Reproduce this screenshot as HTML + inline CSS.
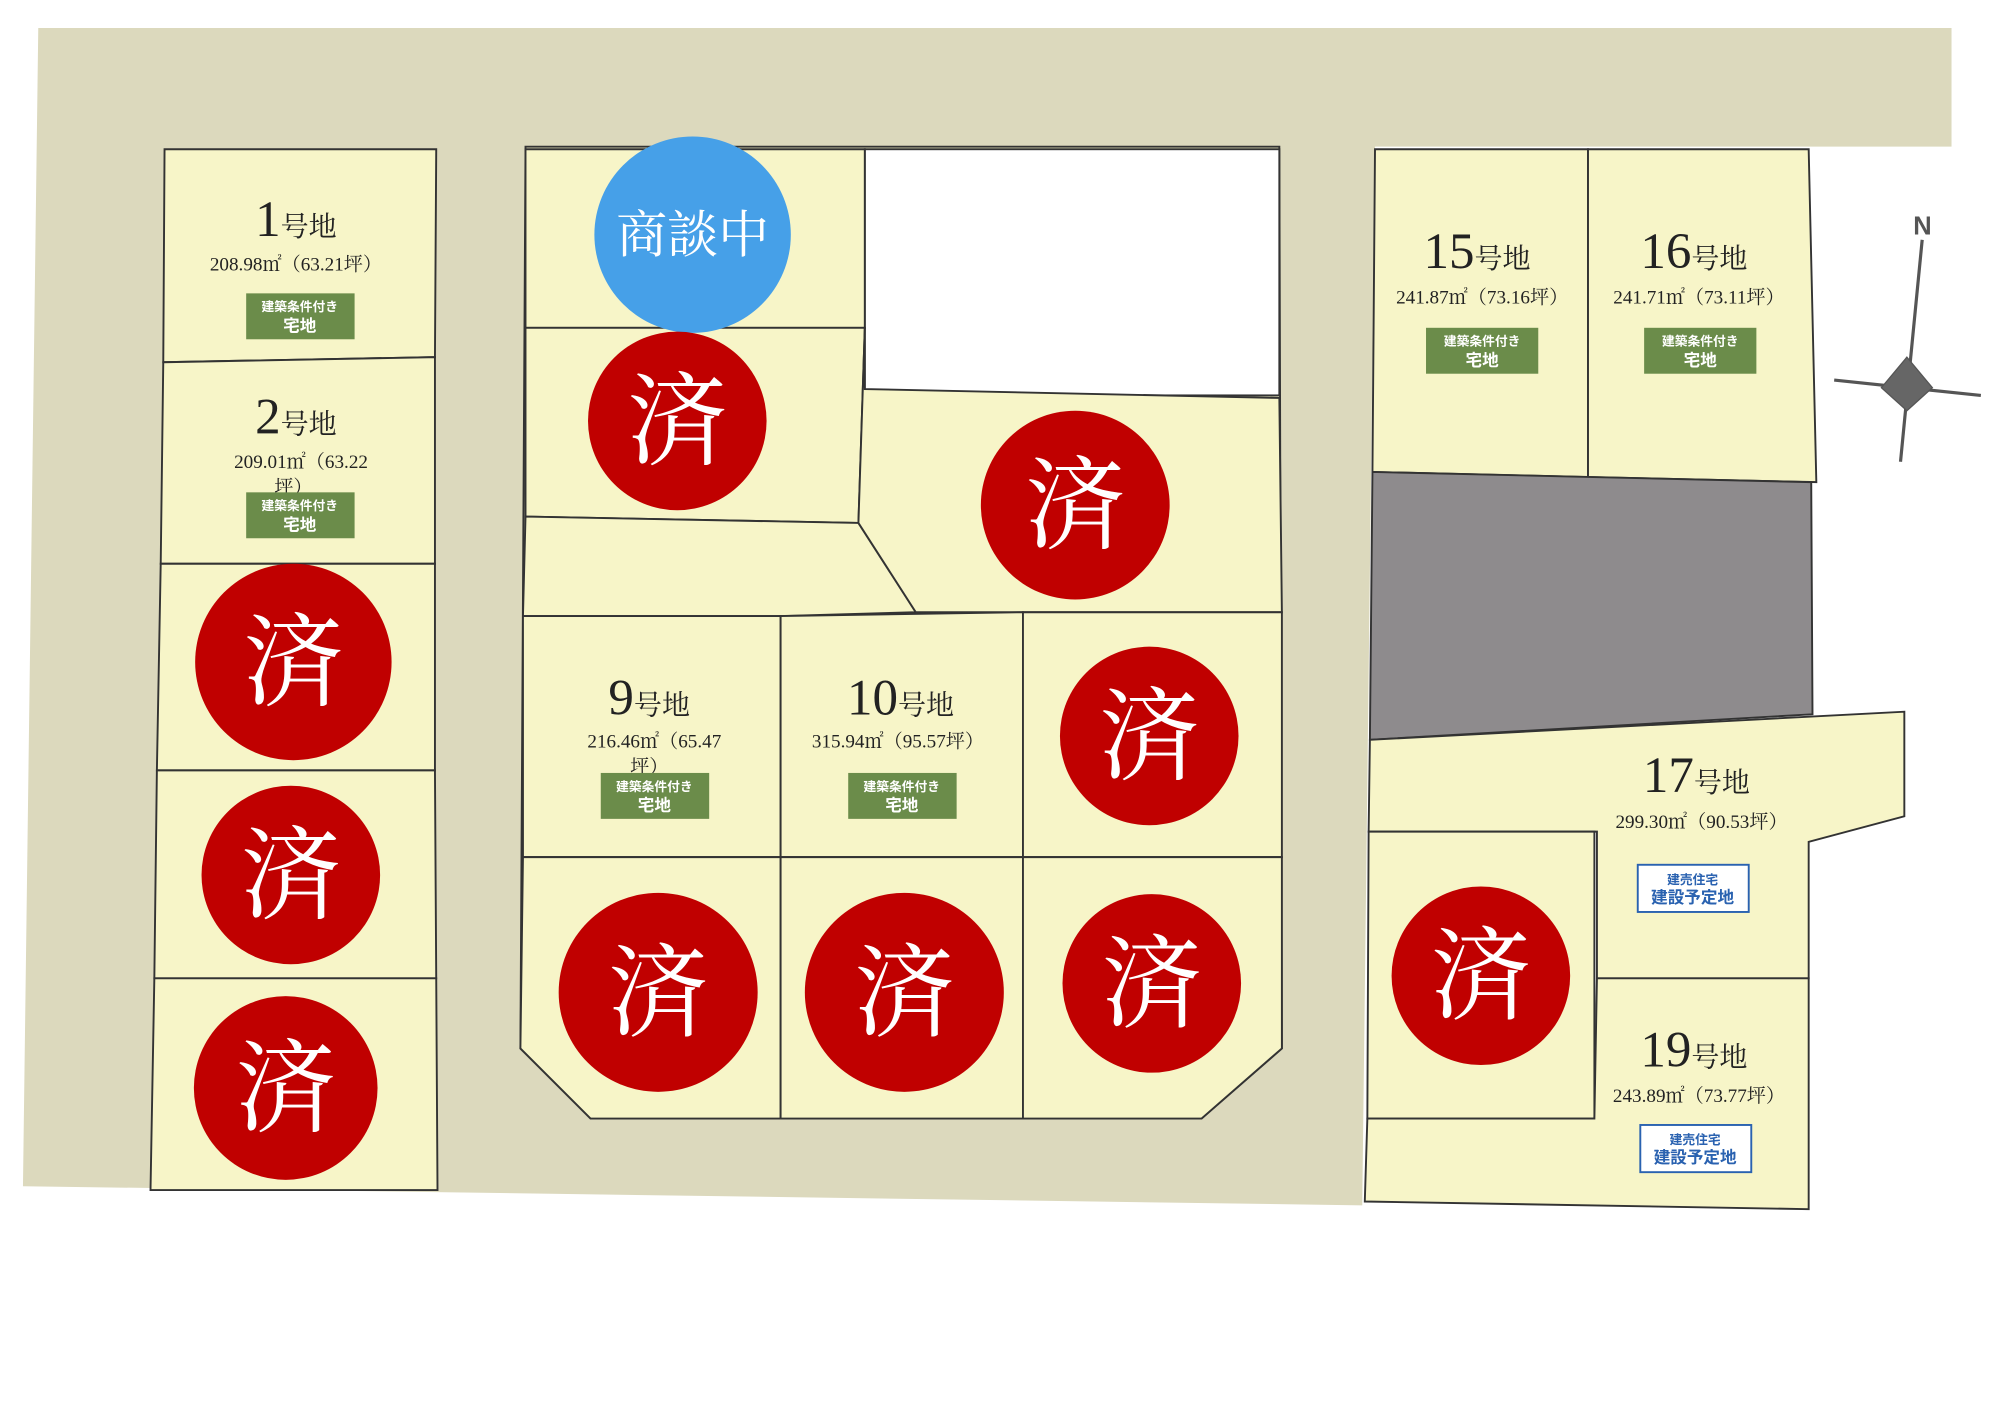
<!DOCTYPE html>
<html><head><meta charset="utf-8"><style>
html,body{margin:0;padding:0;background:#fff;}
svg{display:block;}
text{font-family:"Liberation Serif","Noto Serif CJK SC","Noto Sans CJK JP",serif;}
.s{font-family:"Liberation Sans","Noto Sans CJK JP",sans-serif;font-weight:bold;}
</style></head><body>
<svg width="2000" height="1414" viewBox="0 0 1568 1108.6" preserveAspectRatio="none" xmlns="http://www.w3.org/2000/svg">
<rect width="1568" height="1109" fill="#fff"/>
<polygon points="30,22 1530,22 1530,115 1078,115 1068,945 18,930" fill="#dcd9bd"/>
<g fill="#f7f5c8" stroke="#333" stroke-width="1.5">
<!-- left column -->
<polygon points="129,117 342,117 341,280 128,284"/>
<polygon points="128,284 341,280 341,442 126,442"/>
<polygon points="126,442 341,442 341,604 123,604"/>
<polygon points="123,604 341,604 342,767 121,767"/>
<polygon points="121,767 342,767 343,933 118,933"/>
<!-- middle block -->
<polygon points="412,115 1003,115 1005,822 942,877 463,877 408,822" />
<rect x="678" y="117" width="325" height="193" fill="#fff"/>
<polygon points="412,117 678,117 678,257 412,257"/>
<polygon points="412,257 678,257 673,410 412,405"/>
<polygon points="412,405 673,410 718,480 612,483 410,483"/>
<polygon points="678,257 678,305 1003,312 1005,480 718,480 673,410"/>
<polygon points="410,483 612,483 612,672 410,672"/>
<polygon points="612,483 802,480 802,672 612,672"/>
<polygon points="802,480 1005,480 1005,672 802,672"/>
<polygon points="410,672 612,672 612,877 463,877 408,822"/>
<polygon points="612,672 802,672 802,877 612,877"/>
<polygon points="802,672 1005,672 1005,822 942,877 802,877"/>
<!-- right block -->
<polygon points="1078,117 1245,117 1245,374 1076,370"/>
<polygon points="1245,117 1418,117 1424,378 1245,374"/>
<polygon points="1076,370 1420,378 1421,560 1074,580" fill="#8e8b8d"/>
<polygon points="1074,580 1493,558 1493,640 1418,660 1418,767 1252,767 1252,652 1073,652"/>
<polygon points="1073,652 1250,652 1250,877 1072,877"/>
<polygon points="1252,767 1418,767 1418,948 1070,942 1072,877 1250,877"/>
</g>
<!-- compass -->
<g stroke="#555" fill="#555">
<line x1="1507" y1="188" x2="1490" y2="362" stroke-width="2.5"/>
<line x1="1438" y1="298" x2="1553" y2="310" stroke-width="2.5"/>
<polygon points="1495,280 1515,304 1495,322 1475,304" fill="#666"/>
</g>
<text x="1500" y="184" font-size="20" fill="#555" class="s">N</text>
<!-- labels -->
<g fill="#222" text-anchor="middle">
<text x="232" y="185"><tspan font-size="40">1</tspan><tspan font-size="22">号地</tspan></text>
<text x="232" y="212" font-size="15">208.98㎡（63.21坪）</text>
<text x="232" y="340"><tspan font-size="40">2</tspan><tspan font-size="22">号地</tspan></text>
<text x="236" y="367" font-size="15">209.01㎡（63.22</text>
<text x="230" y="387" font-size="15">坪）</text>
<text x="509" y="560"><tspan font-size="40">9</tspan><tspan font-size="22">号地</tspan></text>
<text x="513" y="586" font-size="15">216.46㎡（65.47</text>
<text x="509" y="606" font-size="15">坪）</text>
<text x="706" y="560"><tspan font-size="40">10</tspan><tspan font-size="22">号地</tspan></text>
<text x="704" y="586" font-size="15">315.94㎡（95.57坪）</text>
<text x="1158" y="210"><tspan font-size="40">15</tspan><tspan font-size="22">号地</tspan></text>
<text x="1162" y="238" font-size="15">241.87㎡（73.16坪）</text>
<text x="1328" y="210"><tspan font-size="40">16</tspan><tspan font-size="22">号地</tspan></text>
<text x="1332" y="238" font-size="15">241.71㎡（73.11坪）</text>
<text x="1330" y="621"><tspan font-size="40">17</tspan><tspan font-size="22">号地</tspan></text>
<text x="1334" y="649" font-size="15">299.30㎡（90.53坪）</text>
<text x="1328" y="836"><tspan font-size="40">19</tspan><tspan font-size="22">号地</tspan></text>
<text x="1332" y="864" font-size="15">243.89㎡（73.77坪）</text>
</g>
<!-- green badges -->
<g text-anchor="middle">
<g transform="translate(193,230)"><rect width="85" height="36" fill="#6b8c4a"/><text x="42" y="14" font-size="10" fill="#fff" class="s">建築条件付き</text><text x="42" y="30" font-size="13" fill="#fff" class="s">宅地</text></g>
<g transform="translate(193,386)"><rect width="85" height="36" fill="#6b8c4a"/><text x="42" y="14" font-size="10" fill="#fff" class="s">建築条件付き</text><text x="42" y="30" font-size="13" fill="#fff" class="s">宅地</text></g>
<g transform="translate(471,606)"><rect width="85" height="36" fill="#6b8c4a"/><text x="42" y="14" font-size="10" fill="#fff" class="s">建築条件付き</text><text x="42" y="30" font-size="13" fill="#fff" class="s">宅地</text></g>
<g transform="translate(665,606)"><rect width="85" height="36" fill="#6b8c4a"/><text x="42" y="14" font-size="10" fill="#fff" class="s">建築条件付き</text><text x="42" y="30" font-size="13" fill="#fff" class="s">宅地</text></g>
<g transform="translate(1118,257)"><rect width="88" height="36" fill="#6b8c4a"/><text x="44" y="14" font-size="10" fill="#fff" class="s">建築条件付き</text><text x="44" y="30" font-size="13" fill="#fff" class="s">宅地</text></g>
<g transform="translate(1289,257)"><rect width="88" height="36" fill="#6b8c4a"/><text x="44" y="14" font-size="10" fill="#fff" class="s">建築条件付き</text><text x="44" y="30" font-size="13" fill="#fff" class="s">宅地</text></g>
<g transform="translate(1284,678)"><rect width="87" height="37" fill="#fff" stroke="#2a62b0" stroke-width="1.5"/><text x="43" y="15" font-size="10" fill="#2a62b0" class="s">建売住宅</text><text x="43" y="30" font-size="13" fill="#2a62b0" class="s">建設予定地</text></g>
<g transform="translate(1286,882)"><rect width="87" height="37" fill="#fff" stroke="#2a62b0" stroke-width="1.5"/><text x="43" y="15" font-size="10" fill="#2a62b0" class="s">建売住宅</text><text x="43" y="30" font-size="13" fill="#2a62b0" class="s">建設予定地</text></g>
</g>
<!-- circles -->
<circle cx="543" cy="184" r="77" fill="#46a0e8"/>
<text x="543" y="198" font-size="40" fill="#fff" text-anchor="middle">商談中</text>
<g fill="#c00000">
<circle cx="531" cy="330" r="70"/><circle cx="843" cy="396" r="74"/>
<circle cx="230" cy="519" r="77"/><circle cx="228" cy="686" r="70"/>
<circle cx="224" cy="853" r="72"/><circle cx="516" cy="778" r="78"/>
<circle cx="709" cy="778" r="78"/><circle cx="903" cy="771" r="70"/>
<circle cx="901" cy="577" r="70"/><circle cx="1161" cy="765" r="70"/>
</g>
<g fill="#fff" font-size="78" text-anchor="middle">
<text x="531" y="357">済</text><text x="843" y="423">済</text>
<text x="230" y="546">済</text><text x="228" y="713">済</text>
<text x="224" y="880">済</text><text x="516" y="805">済</text>
<text x="709" y="805">済</text><text x="903" y="798">済</text>
<text x="901" y="604">済</text><text x="1161" y="792">済</text>
</g>
</svg>
</body></html>
